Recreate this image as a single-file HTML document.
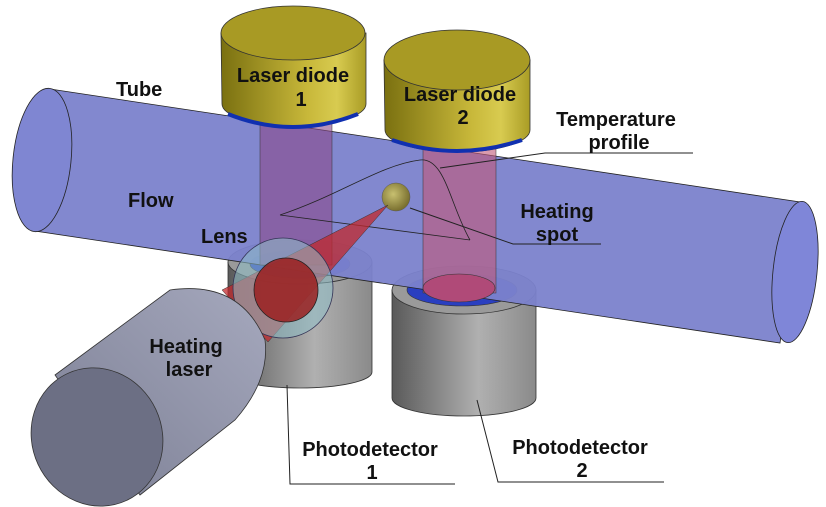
<!DOCTYPE html>
<html><head><meta charset="utf-8"><style>
html,body{margin:0;padding:0;background:#fff;}
svg{display:block;}
text{font-family:"Liberation Sans",sans-serif;font-weight:bold;font-size:20px;fill:#111;}
</style></head><body>
<svg width="826" height="507" viewBox="0 0 826 507" xmlns="http://www.w3.org/2000/svg">
<defs>
<linearGradient id="gold" x1="0" x2="1"><stop offset="0" stop-color="#7a7010"/><stop offset="0.6" stop-color="#c8b83a"/><stop offset="0.8" stop-color="#d8cb50"/><stop offset="1" stop-color="#a99c25"/></linearGradient>
<linearGradient id="grey" x1="0" x2="1"><stop offset="0" stop-color="#5a5a5a"/><stop offset="0.6" stop-color="#b0b0b0"/><stop offset="1" stop-color="#8a8a8a"/></linearGradient>
<linearGradient id="hl" x1="0" y1="1" x2="1" y2="0"><stop offset="0" stop-color="#7c7f94"/><stop offset="1" stop-color="#a5a8bd"/></linearGradient>
<radialGradient id="sph" cx="0.4" cy="0.4" r="0.6"><stop offset="0" stop-color="#c8c070"/><stop offset="1" stop-color="#7a7030"/></radialGradient>
</defs>
<!-- photodetector 1 -->
<path d="M228,262 L228,372 A72,16 0 0 0 372,372 L372,262 Z" fill="url(#grey)" stroke="#333" stroke-width="0.8"/>
<ellipse cx="300" cy="262" rx="72" ry="22" fill="#9a9a9a" stroke="#333" stroke-width="0.8"/>
<ellipse cx="300" cy="264" rx="50" ry="14" fill="#2a3fc0" stroke="#333" stroke-width="0.6"/>
<!-- photodetector 2 -->
<path d="M392,290 L392,398 A72,18 0 0 0 536,398 L536,290 Z" fill="url(#grey)" stroke="#333" stroke-width="0.8"/>
<ellipse cx="464" cy="290" rx="72" ry="24" fill="#9a9a9a" stroke="#333" stroke-width="0.8"/>
<ellipse cx="462" cy="290" rx="55" ry="16" fill="#2a3fc0" stroke="#333" stroke-width="0.6"/>
<!-- tube -->
<path d="M50,89 L800,202 L780,343 L35,231 Z" fill="#7b82cc" fill-opacity="0.95" stroke="#222" stroke-width="0.8"/>
<ellipse cx="42" cy="160" rx="29" ry="72" transform="rotate(6 42 160)" fill="#7f86d2" stroke="#222" stroke-width="0.8"/>
<ellipse cx="795" cy="272" rx="22" ry="71" transform="rotate(6 795 272)" fill="#7f86d8" stroke="#222" stroke-width="0.8"/>
<!-- beams -->
<rect x="260" y="120" width="72" height="145" fill="#8a4a8a" fill-opacity="0.6" stroke="#333" stroke-width="0.5"/>
<rect x="423" y="145" width="73" height="148" fill="#c25878" fill-opacity="0.6" stroke="#333" stroke-width="0.5"/>
<ellipse cx="459" cy="288" rx="36" ry="14" fill="#b04a78" stroke="#333" stroke-width="0.6"/>
<!-- temperature profile -->
<path d="M280,215 L470,240 M280,215 C340,195 380,165 420,160 C445,157 450,205 470,240" fill="none" stroke="#222" stroke-width="0.8"/>
<!-- laser diode 1 -->
<path d="M244,117 Q293,135 342,117 L330,124 Q293,132 256,124 Z" fill="#1030b0"/>
<path d="M221,33 L222,104 A72,22 0 0 0 366,104 L366,33 Z" fill="url(#gold)" stroke="#333" stroke-width="0.8"/>
<ellipse cx="293" cy="33" rx="72" ry="27" fill="#a89a24" stroke="#333" stroke-width="0.8"/>
<path d="M228,114 Q293,140 358,114" fill="none" stroke="#1030b0" stroke-width="4"/>
<!-- laser diode 2 -->
<path d="M384,60 L385,130 A72,22 0 0 0 530,130 L530,60 Z" fill="url(#gold)" stroke="#333" stroke-width="0.8"/>
<ellipse cx="457" cy="60" rx="73" ry="30" fill="#a89a24" stroke="#333" stroke-width="0.8"/>
<path d="M392,140 Q457,162 522,140" fill="none" stroke="#1030b0" stroke-width="4"/>
<!-- sphere -->
<circle cx="396" cy="197" r="14" fill="url(#sph)" stroke="#555" stroke-width="0.5"/>
<!-- red cone -->
<polygon points="222,290 388,205 268,342" fill="#c0282c" fill-opacity="0.75" stroke="#333" stroke-width="0.5"/>
<!-- lens -->
<circle cx="283" cy="288" r="50" fill="#8fc0c8" fill-opacity="0.55" stroke="#335" stroke-width="0.8"/>
<circle cx="286" cy="290" r="32" fill="#9a2020" fill-opacity="0.85" stroke="#222" stroke-width="0.8"/>
<!-- heating laser -->
<path d="M55,375 L170,290 Q240,280 265,340 Q270,380 235,420 L140,495 Z" fill="url(#hl)" stroke="#333" stroke-width="0.8"/>
<ellipse cx="97" cy="437" rx="65" ry="70" transform="rotate(-25 97 437)" fill="#6c6f84" stroke="#333" stroke-width="0.8"/>
<!-- leaders -->
<g stroke="#222" stroke-width="1" fill="none">
<path d="M440,168 L545,153 L693,153"/>
<path d="M410,208 L513,244 L601,244"/>
<path d="M287,385 L290,484 L455,484"/>
<path d="M477,400 L498,482 L664,482"/>
</g>
<!-- labels -->
<text x="116" y="96">Tube</text>
<text x="293" y="82" text-anchor="middle">Laser diode</text>
<text x="301" y="106" text-anchor="middle">1</text>
<text x="460" y="101" text-anchor="middle">Laser diode</text>
<text x="463" y="124" text-anchor="middle">2</text>
<text x="616" y="126" text-anchor="middle">Temperature</text>
<text x="619" y="149" text-anchor="middle">profile</text>
<text x="128" y="207">Flow</text>
<text x="557" y="218" text-anchor="middle">Heating</text>
<text x="557" y="241" text-anchor="middle">spot</text>
<text x="201" y="243">Lens</text>
<text x="186" y="353" text-anchor="middle">Heating</text>
<text x="189" y="376" text-anchor="middle">laser</text>
<text x="370" y="456" text-anchor="middle">Photodetector</text>
<text x="372" y="479" text-anchor="middle">1</text>
<text x="580" y="454" text-anchor="middle">Photodetector</text>
<text x="582" y="477" text-anchor="middle">2</text>
</svg>
</body></html>
